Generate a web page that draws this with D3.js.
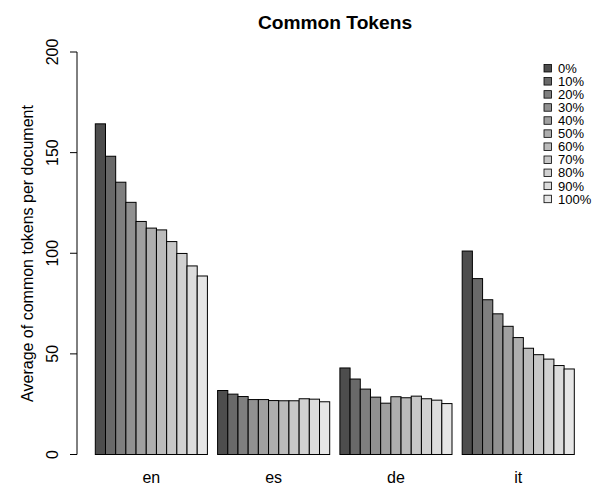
<!DOCTYPE html>
<html>
<head>
<meta charset="utf-8">
<script src="https://cdn.jsdelivr.net/npm/d3@7"></script>
<style>
  html, body { margin: 0; padding: 0; background: #fff; }
  svg { display: block; font-family: "Liberation Sans", Arial, Helvetica, sans-serif; }
</style>
</head>
<body>
<svg id="chart" width="594" height="485"></svg>
<script>
// ---- data ----
const languages = ["en", "es", "de", "it"];
const levels = ["0%", "10%", "20%", "30%", "40%", "50%", "60%", "70%", "80%", "90%", "100%"];
const enValues = [164.3, 148.2, 135.3, 125.3, 115.8, 112.5, 111.6, 105.8, 99.9, 93.7, 88.7];
const esValues = [31.8, 30.0, 28.8, 27.3, 27.3, 26.8, 26.7, 26.7, 27.7, 27.5, 26.2];
const deValues = [43.0, 37.5, 32.5, 28.5, 25.5, 28.7, 28.2, 29.0, 27.7, 27.0, 25.3];
const itValues = [101.1, 87.4, 76.9, 69.9, 63.7, 58.1, 52.8, 49.6, 47.4, 44.2, 42.5];
const yTicks = [0, 50, 100, 150, 200];
const chartTitle = "Common Tokens";
const yTitle = "Average of common tokens per document";

const seriesByLang = { en: enValues, es: esValues, de: deValues, it: itValues };

// ---- layout ----
const svg = d3.select("#chart");

// grey.colors(11) as in R: start 0.3, end 0.9, gamma 2.2
const g0 = Math.pow(0.3, 2.2), g1 = Math.pow(0.9, 2.2);
const greys = levels.map((_, i) => {
  const v = Math.pow(g0 + (g1 - g0) * i / (levels.length - 1), 1 / 2.2);
  const c = Math.round(v * 255);
  return d3.rgb(c, c, c).formatHex();
});
const color = d3.scaleOrdinal().domain(levels).range(greys);

const x0 = d3.scaleBand().domain(languages).range([95.3, 574.3]).paddingInner(1 / 12).paddingOuter(0);
const x1 = d3.scaleBand().domain(levels).range([0, x0.bandwidth()]).padding(0);
const y = d3.scaleLinear().domain([0, 200]).range([454.5, 52]);

// bars
const groups = svg.append("g").selectAll("g")
  .data(languages).join("g")
  .attr("transform", d => `translate(${x0(d)},0)`);

groups.selectAll("rect")
  .data(lang => levels.map((lv, i) => ({ lv, v: seriesByLang[lang][i] })))
  .join("rect")
  .attr("x", d => x1(d.lv))
  .attr("width", x1.bandwidth())
  .attr("y", d => y(d.v))
  .attr("height", d => y(0) - y(d.v))
  .attr("fill", d => color(d.lv))
  .attr("stroke", "#000")
  .attr("stroke-width", 1);

// group labels
svg.append("g").selectAll("text")
  .data(languages).join("text")
  .attr("x", d => x0(d) + x0.bandwidth() / 2)
  .attr("y", 483)
  .attr("text-anchor", "middle")
  .attr("font-size", 16)
  .text(d => d);

// y axis
const yAxis = svg.append("g")
  .attr("transform", "translate(77,0)")
  .call(d3.axisLeft(y).tickValues(yTicks).tickSize(7).tickFormat(d3.format("d")));
yAxis.selectAll("path, line").attr("stroke", "#000");
yAxis.select(".domain").attr("d", `M0,${y(0)}V${y(200)}`);
yAxis.selectAll(".tick").attr("transform", null);
yAxis.selectAll(".tick line").attr("transform", d => `translate(0,${y(d)})`);
yAxis.selectAll(".tick text")
  .attr("font-size", 16)
  .attr("fill", "#000")
  .attr("font-family", "Liberation Sans, Arial, sans-serif")
  .attr("text-anchor", "middle")
  .attr("x", 0).attr("y", 0).attr("dy", 0)
  .attr("transform", d => `translate(-18.7,${y(d)}) rotate(-90)`);

// y title
svg.append("text")
  .attr("transform", "translate(33.3,253.5) rotate(-90)")
  .attr("text-anchor", "middle")
  .attr("font-size", 16)
  .text(yTitle);

// title
svg.append("text")
  .attr("x", 335)
  .attr("y", 29)
  .attr("text-anchor", "middle")
  .attr("font-size", 19.2)
  .attr("font-weight", "bold")
  .text(chartTitle);

// legend
const leg = svg.append("g").selectAll("g")
  .data(levels).join("g")
  .attr("transform", (d, i) => `translate(0,${68.3 + i * 13.07})`);
leg.append("rect")
  .attr("x", 544).attr("y", -3.8)
  .attr("width", 7.5).attr("height", 7.5)
  .attr("fill", d => color(d))
  .attr("stroke", "#000").attr("stroke-width", 0.8);
leg.append("text")
  .attr("x", 558).attr("y", 4.6)
  .attr("font-size", 13)
  .text(d => d);
</script>
</body>
</html>
